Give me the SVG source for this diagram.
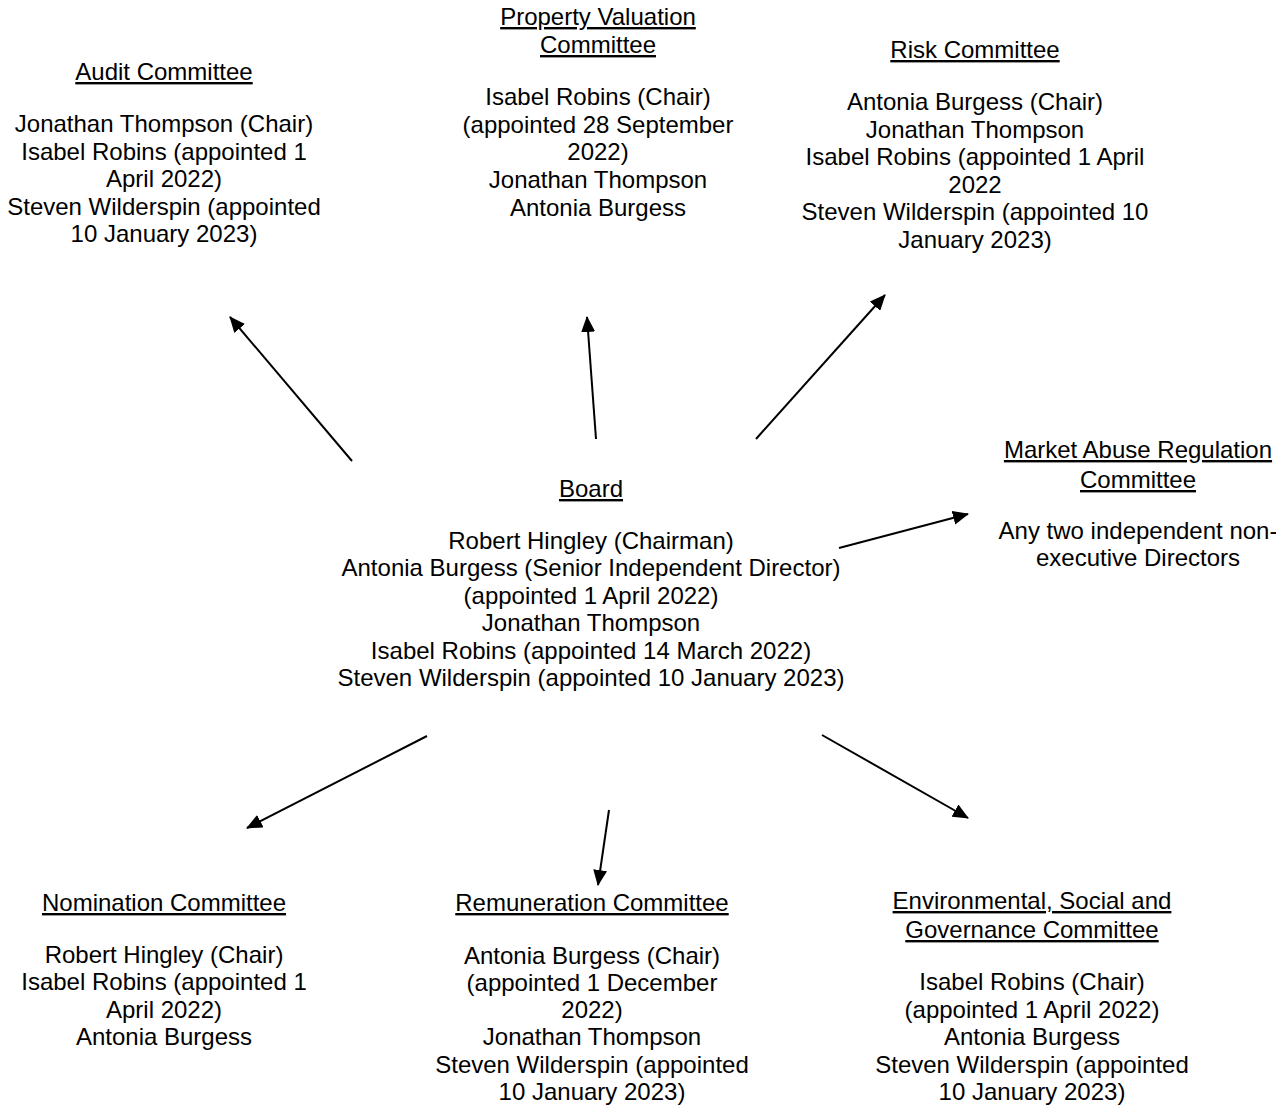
<svg xmlns="http://www.w3.org/2000/svg" width="1276" height="1108" viewBox="0 0 1276 1108">
<style>
text{font-family:"Liberation Sans",Arial,sans-serif;font-size:24px;fill:#000;text-anchor:middle}
.t{text-decoration:underline}
.c line{stroke:#000;stroke-width:2}
</style>
<defs>
<marker id="ah" viewBox="0 0 16 14" refX="15" refY="7" markerWidth="16" markerHeight="14" markerUnits="userSpaceOnUse" orient="auto">
<path d="M0,0 L16,7 L0,14 Z" fill="#000"/>
</marker>
</defs>
<rect width="1276" height="1108" fill="#fff"/>
<g id="audit">
<text x="164" y="80" class="t">Audit Committee</text>
<text x="164" y="132">Jonathan Thompson (Chair)</text>
<text x="164" y="159.5">Isabel Robins (appointed 1</text>
<text x="164" y="187">April 2022)</text>
<text x="164" y="214.5">Steven Wilderspin (appointed</text>
<text x="164" y="242">10 January 2023)</text>
</g>
<g id="property">
<text x="598" y="25" class="t">Property Valuation</text>
<text x="598" y="53" class="t">Committee</text>
<text x="598" y="105">Isabel Robins (Chair)</text>
<text x="598" y="133">(appointed 28 September</text>
<text x="598" y="160">2022)</text>
<text x="598" y="188">Jonathan Thompson</text>
<text x="598" y="216">Antonia Burgess</text>
</g>
<g id="risk">
<text x="975" y="58" class="t">Risk Committee</text>
<text x="975" y="110">Antonia Burgess (Chair)</text>
<text x="975" y="138">Jonathan Thompson</text>
<text x="975" y="165">Isabel Robins (appointed 1 April</text>
<text x="975" y="193">2022</text>
<text x="975" y="220">Steven Wilderspin (appointed 10</text>
<text x="975" y="248">January 2023)</text>
</g>
<g id="mar">
<text x="1138" y="458" class="t">Market Abuse Regulation</text>
<text x="1138" y="488" class="t">Committee</text>
<text x="1138" y="539">Any two independent non-</text>
<text x="1138" y="566">executive Directors</text>
</g>
<g id="board">
<text x="591" y="497" class="t">Board</text>
<text x="591" y="549">Robert Hingley (Chairman)</text>
<text x="591" y="576">Antonia Burgess (Senior Independent Director)</text>
<text x="591" y="604">(appointed 1 April 2022)</text>
<text x="591" y="631">Jonathan Thompson</text>
<text x="591" y="659">Isabel Robins (appointed 14 March 2022)</text>
<text x="591" y="686">Steven Wilderspin (appointed 10 January 2023)</text>
</g>
<g id="nomination">
<text x="164" y="911" class="t">Nomination Committee</text>
<text x="164" y="963">Robert Hingley (Chair)</text>
<text x="164" y="990">Isabel Robins (appointed 1</text>
<text x="164" y="1018">April 2022)</text>
<text x="164" y="1045">Antonia Burgess</text>
</g>
<g id="remuneration">
<text x="592" y="911" class="t">Remuneration Committee</text>
<text x="592" y="964">Antonia Burgess (Chair)</text>
<text x="592" y="991">(appointed 1 December</text>
<text x="592" y="1018">2022)</text>
<text x="592" y="1045">Jonathan Thompson</text>
<text x="592" y="1073">Steven Wilderspin (appointed</text>
<text x="592" y="1100">10 January 2023)</text>
</g>
<g id="esg">
<text x="1032" y="909" class="t">Environmental, Social and</text>
<text x="1032" y="938" class="t">Governance Committee</text>
<text x="1032" y="990">Isabel Robins (Chair)</text>
<text x="1032" y="1018">(appointed 1 April 2022)</text>
<text x="1032" y="1045">Antonia Burgess</text>
<text x="1032" y="1073">Steven Wilderspin (appointed</text>
<text x="1032" y="1100">10 January 2023)</text>
</g>
<g id="connectors" class="c">
<line x1="352" y1="461" x2="230" y2="317" marker-end="url(#ah)"/>
<line x1="596" y1="439" x2="587" y2="317" marker-end="url(#ah)"/>
<line x1="756" y1="439" x2="885" y2="295" marker-end="url(#ah)"/>
<line x1="839" y1="548" x2="968" y2="514" marker-end="url(#ah)"/>
<line x1="427" y1="736" x2="247" y2="828" marker-end="url(#ah)"/>
<line x1="609" y1="810" x2="598" y2="885" marker-end="url(#ah)"/>
<line x1="822" y1="735" x2="968" y2="818" marker-end="url(#ah)"/>
</g>
</svg>
